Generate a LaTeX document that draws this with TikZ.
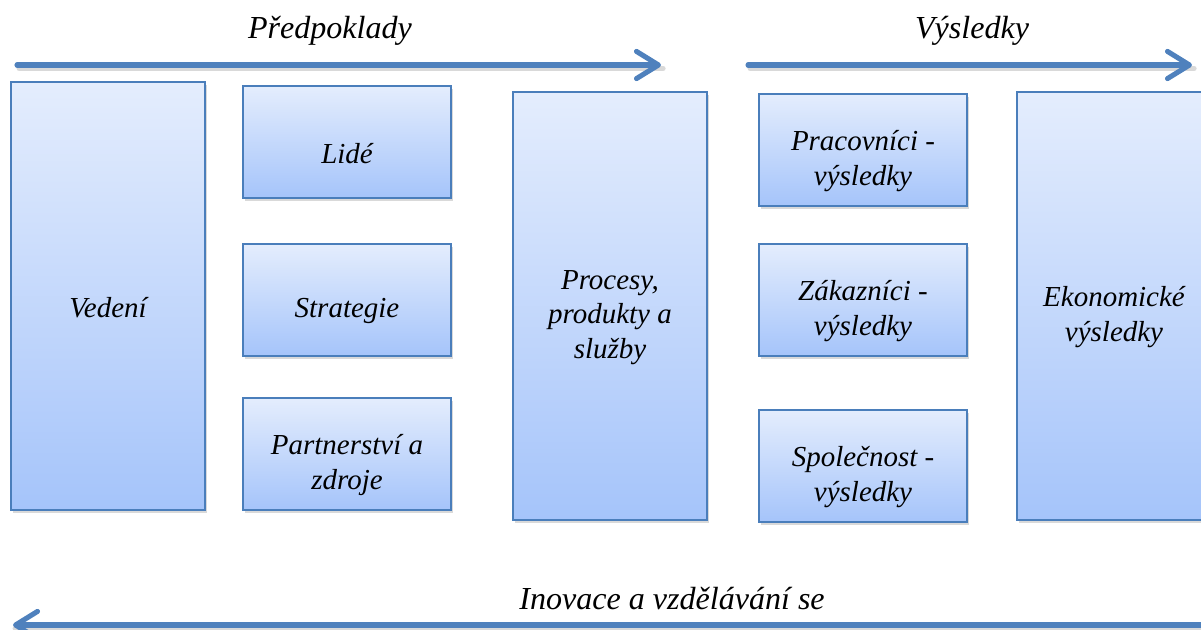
\documentclass[tikz,border=0pt]{standalone}
\usepackage{fontspec}
\setmainfont{Liberation Serif}
\usetikzlibrary{arrows.meta, positioning, shadows}

\definecolor{boxtop}{HTML}{E4EDFD}
\definecolor{boxbot}{HTML}{A5C4FA}
\definecolor{boxline}{HTML}{4A7EBB}
\definecolor{arrowblue}{HTML}{4F81BD}

\begin{document}
\begin{tikzpicture}[
    x=0.025cm, y=-0.025cm,
    box/.style={draw=boxline, line width=1.5pt, rectangle,
      top color=boxtop, bottom color=boxbot,
      drop shadow={opacity=0.3, shadow xshift=1.6pt, shadow yshift=-2.2pt}},
    tallbox/.style={box, minimum width=4.85cm, minimum height=10.7cm},
    smallbox/.style={box, minimum width=5.2cm, minimum height=2.8cm},
    boxtext/.style={align=center, inner sep=0pt, yshift=-0.28cm,
      font=\fontsize{20.6}{24.5}\selectfont\itshape},
    title/.style={font=\fontsize{22.8}{27}\selectfont\itshape, inner sep=0pt},
    arrow/.style={draw=arrowblue, line width=3.6pt, line cap=round,
      -{Straight Barb[length=0.55cm, width=0.68cm, round]}},
    arrowshade/.style={draw=black!25, line width=3.6pt, line cap=round,
      opacity=0.6, transform canvas={xshift=1.5pt, yshift=-2.5pt}}
]
\clip (0,0) rectangle (1201,630);
\useasboundingbox (0,0) rectangle (1201,630);

% titles
\node[title] (predpoklady) at (330,31) {Předpoklady};
\node[title] (vysledky) at (972,31) {Výsledky};
\node[title] (inovace) at (672,599) {Inovace a vzdělávání se};

% boxes
\node[tallbox, label={[boxtext]center:Vedení}] (vedeni) at (108,296) {};
\node[smallbox, label={[boxtext]center:Lidé}] (lide) at (347,142) {};
\node[smallbox, label={[boxtext]center:Strategie}] (strategie) at (347,300) {};
\node[smallbox, label={[boxtext]center:{Partnerství a\\zdroje}}] (partner) at (347,454) {};
\node[tallbox, label={[boxtext]center:{Procesy,\\produkty a\\služby}}] (procesy) at (610,306) {};
\node[smallbox, label={[boxtext]center:{Pracovníci -\\výsledky}}] (pracovnici) at (863,150) {};
\node[smallbox, label={[boxtext]center:{Zákazníci -\\výsledky}}] (zakaznici) at (863,300) {};
\node[smallbox, label={[boxtext]center:{Společnost -\\výsledky}}] (spolecnost) at (863,466) {};
\node[tallbox, label={[boxtext]center:{Ekonomické\\výsledky}}] (ekonom) at (1114,306) {};

% arrows
\coordinate (p0) at (17,65);
\coordinate (p1) at (661,65);
\coordinate (v0) at (748,65);
\coordinate (v1) at (1192,65);
\coordinate (i0) at (1215,625);
\coordinate (i1) at (13,625);

\draw[arrowshade] (p0) -- (p1);
\draw[arrowshade] (v0) -- (v1);
\draw[arrowshade] (i0) -- (i1);
\draw[arrow] (p0) -- (p1);
\draw[arrow] (v0) -- (v1);
\draw[arrow] (i0) -- (i1);
\end{tikzpicture}
\end{document}
